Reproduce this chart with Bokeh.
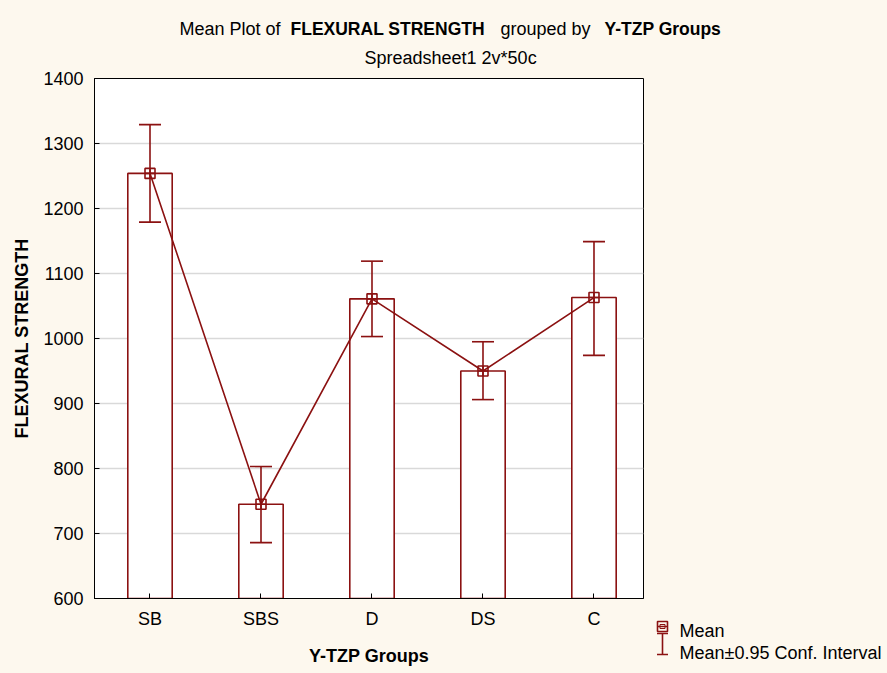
from bokeh.plotting import figure
from bokeh.models import (ColumnDataSource, Whisker, TeeHead, FixedTicker, Range1d)
from bokeh.layouts import column, row
from bokeh.core.properties import value
from bokeh.embed import file_html
from bokeh.resources import INLINE

groups = ["SB", "SBS", "D", "DS", "C"]
means = [1254, 745, 1061, 950, 1063]
ci_upper = [1329, 803, 1119, 995, 1149]
ci_lower = [1179, 686, 1003, 906, 974]
y_ticks = [600, 700, 800, 900, 1000, 1100, 1200, 1300, 1400]

RED = "#8b1111"
FONT = "Liberation Sans"
BG = "#fdf8ee"

xpos = list(range(len(groups)))
src = ColumnDataSource(dict(x=xpos, m=means, up=ci_upper, lo=ci_lower))

def blank(w, h):
    f = figure(width=w, height=h, x_range=Range1d(0, w), y_range=Range1d(h, 0),
               output_backend="svg", toolbar_location=None, title=None,
               min_border=0, x_axis_location=None, y_axis_location=None,
               border_fill_color=BG, background_fill_color=BG, outline_line_color=None)
    f.xgrid.visible = False
    f.ygrid.visible = False
    try:
        f.frame_align = False
    except Exception as e:
        print("no frame_align", e)
    return f

def txt(f, xs, ys, texts, bold=False, size="18px"):
    f.text(x=xs, y=ys, text=texts, text_font=value(FONT), text_font_size=size,
           text_color="black", text_font_style="bold" if bold else "normal",
           text_align="left", text_baseline="middle")

# ---- title strip
tf = blank(887, 70)
txt(tf, [179, 500, 364], [28, 28, 57], ["Mean Plot of", "grouped by", "Spreadsheet1 2v*50c"])
txt(tf, [290, 604], [28, 28], ["FLEXURAL STRENGTH", "Y-TZP Groups"], bold=True, size="17.5px")

# ---- main plot
p = figure(width=650, height=603, x_range=Range1d(-0.5, 4.446), y_range=Range1d(600, 1400),
           output_backend="svg", toolbar_location=None, title=None,
           min_border_left=94, min_border_right=7, min_border_top=8, min_border_bottom=75,
           border_fill_color=BG, background_fill_color="white",
           outline_line_color="black", outline_line_width=1)

p.vbar(x="x", top="m", bottom=600, width=0.4, source=src, fill_color="white",
       line_color=RED, line_width=1.6)
p.add_layout(Whisker(base="x", upper="up", lower="lo", source=src, line_color=RED, line_width=1.6,
                     level="annotation",
                     upper_head=TeeHead(size=22, line_color=RED, line_width=1.6),
                     lower_head=TeeHead(size=22, line_color=RED, line_width=1.6)))
p.line(x="x", y="m", source=src, line_color=RED, line_width=1.6)
p.scatter(x="x", y="m", source=src, marker="square_cross", size=10, fill_color=None,
          line_color=RED, line_width=1.6)

p.yaxis.ticker = FixedTicker(ticks=y_ticks)
p.xaxis.ticker = FixedTicker(ticks=xpos)
p.xaxis.major_label_overrides = {i: g for i, g in zip(xpos, groups)}
for ax in (p.xaxis[0], p.yaxis[0]):
    ax.major_tick_in = 5
    ax.major_tick_out = 0
    ax.minor_tick_in = 0
    ax.minor_tick_out = 0
    ax.axis_line_color = "black"
    ax.major_tick_line_color = "black"
    ax.major_label_text_font = FONT
    ax.major_label_text_font_size = "18px"
    ax.major_label_text_color = "black"
    ax.axis_label_text_font = FONT
    ax.axis_label_text_font_size = "18px"
    ax.axis_label_text_font_style = "bold"
    ax.axis_label_text_color = "black"
p.xaxis.axis_label = "Y-TZP Groups"
p.yaxis.axis_label = "FLEXURAL STRENGTH"
p.xaxis.major_label_standoff = 10
p.xaxis.axis_label_standoff = 14
p.yaxis.major_label_standoff = 11
p.yaxis.axis_label_standoff = 8
p.xgrid.grid_line_color = None
p.ygrid.grid_line_color = "#d9d9d9"
p.ygrid.grid_line_width = 1.5

# ---- legend column (right of plot)
lf = blank(237, 603)
lf.quad(left=[7], right=[17], top=[551], bottom=[561], fill_color=None, line_color=RED, line_width=1.6)
lf.quad(left=[9.5], right=[14.5], top=[554], bottom=[558], fill_color=None, line_color=RED, line_width=1)
lf.segment(x0=[7], y0=[556], x1=[17], y1=[556], line_color=RED, line_width=1.5)
lf.segment(x0=[12, 6.5, 6.5], y0=[563, 563, 584], x1=[12, 17.5, 17.5], y1=[584, 563, 584],
           line_color=RED, line_width=1.6)
txt(lf, [29, 29], [560, 582], ["Mean", "Mean\u00b10.95 Conf. Interval"])

inner = row(p, lf, styles={"background-color": BG})
layout = column(tf, inner, styles={"background-color": BG})
open("out.html", "w").write(file_html(layout, INLINE))
